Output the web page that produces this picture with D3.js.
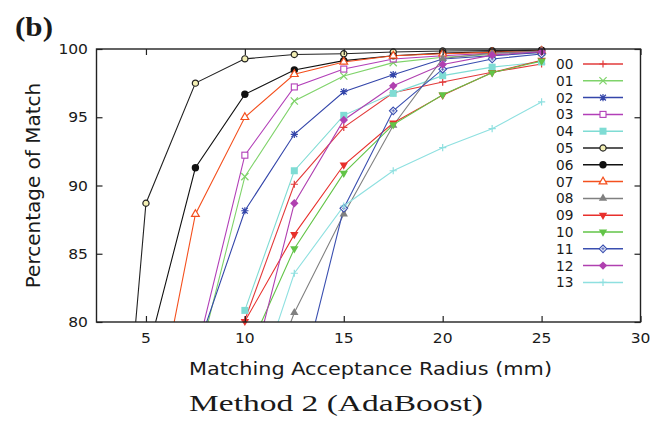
<!DOCTYPE html>
<html>
<head>
<meta charset="utf-8">
<script src="https://cdn.jsdelivr.net/npm/d3@7"></script>
<style>
  body { margin: 0; background: #fff; }
  text { fill: #1a1a1a; }
</style>
</head>
<body>
<svg id="chart" width="662" height="421"></svg>
<script>
// Acceptance radius (mm) at which each sequence was evaluated
const radius = [2.5, 5, 7.5, 10, 12.5, 15, 17.5, 20, 22.5, 25];

// Percentage of match per sequence (null = not evaluated / far below range)
const s00 = [null, null, null, 80.15, 90.09, 94.26, 96.8, 97.58, 98.3, 98.9];
const s01 = [null, null, 76.3, 90.65, 96.19, 98.02, 99.0, 99.4, 99.6, 99.75];
const s02 = [null, null, 77.6, 88.15, 93.75, 96.87, 98.12, 99.27, 99.5, 99.75];
const s03 = [null, null, 77.4, 92.22, 97.22, 98.53, 99.27, 99.5, 99.7, 99.82];
const s04 = [null, null, null, 80.85, 91.08, 95.14, 96.75, 98.05, 98.67, 99.05];
const s05 = [46.7, 88.7, 97.5, 99.28, 99.6, 99.65, 99.78, 99.85, 99.88, 99.92];
const s06 = [null, 77.25, 91.3, 96.68, 98.46, 99.15, 99.5, 99.7, 99.8, 99.9];
const s07 = [null, 69.5, 87.9, 95.0, 98.15, 99.05, 99.5, 99.65, 99.75, 99.85];
const s08 = [null, null, null, 71.1, 80.68, 87.9, 94.4, 99.3, 99.7, 99.85];
const s09 = [null, null, null, 80.05, 86.42, 91.5, 94.58, 96.62, 98.28, 99.18];
const s10 = [null, null, null, 77.3, 85.37, 90.9, 94.46, 96.65, 98.26, 99.12];
const s11 = [null, null, null, null, 73.8, 88.33, 95.47, 98.52, 99.27, 99.63];
const s12 = [null, null, null, 74.4, 88.7, 94.8, 97.3, 98.86, 99.55, 99.8];
const s13 = [null, null, null, 72.7, 83.57, 88.5, 91.08, 92.77, 94.16, 96.12];

const seriesValues = [s00, s01, s02, s03, s04, s05, s06, s07, s08, s09, s10, s11, s12, s13];
const seriesNames = ["00", "01", "02", "03", "04", "05", "06", "07", "08", "09", "10", "11", "12", "13"];
const seriesColors = ["#e23b3b", "#7fd36a", "#3446aa", "#b23fb8", "#7fdcd4", "#222222",
                      "#111111", "#f4501e", "#808080", "#e8302c", "#62c447", "#3a4fb0",
                      "#b040b0", "#8ee0e0"];
const seriesSymbols = ["plus", "cross", "star", "squareOpen", "square", "circleOpen",
                       "circle", "triangleOpen", "triangle", "triangleDown", "triangleDown",
                       "diamondOpen", "diamond", "plus"];

const xTicks = [5, 10, 15, 20, 25, 30];
const yTicks = [80, 85, 90, 95, 100];

const plot = { left: 96.5, right: 640.5, top: 49, bottom: 322 };
const svg = d3.select("#chart");

const x = d3.scaleLinear().domain([2.5, 30]).range([plot.left, plot.right]);
const y = d3.scaleLinear().domain([80, 100]).range([plot.bottom, plot.top]);

svg.append("defs").append("clipPath").attr("id", "plotClip")
  .append("rect")
  .attr("x", plot.left).attr("y", plot.top)
  .attr("width", plot.right - plot.left).attr("height", plot.bottom - plot.top);

// Marker shapes
function drawSymbol(g, type, color, cx, cy) {
  const r = 3.6;
  const t = g.append("g").attr("transform", `translate(${cx},${cy})`);
  const line = "stroke-width";
  switch (type) {
    case "plus":
      t.append("path").attr("d", `M${-r},0H${r}M0,${-r}V${r}`)
        .attr("stroke", color).attr(line, 1.2).attr("fill", "none");
      break;
    case "cross":
      t.append("path").attr("d", `M${-r},${-r}L${r},${r}M${-r},${r}L${r},${-r}`)
        .attr("stroke", color).attr(line, 1.2).attr("fill", "none");
      break;
    case "star":
      t.append("path").attr("d", `M${-r},0H${r}M0,${-r}V${r}M${-r*0.8},${-r*0.8}L${r*0.8},${r*0.8}M${-r*0.8},${r*0.8}L${r*0.8},${-r*0.8}`)
        .attr("stroke", color).attr(line, 1.2).attr("fill", "none");
      break;
    case "squareOpen":
      t.append("rect").attr("x", -3).attr("y", -3).attr("width", 6).attr("height", 6)
        .attr("stroke", color).attr(line, 1.1).attr("fill", "#fff");
      break;
    case "square":
      t.append("rect").attr("x", -3.5).attr("y", -3.5).attr("width", 7).attr("height", 7)
        .attr("fill", color);
      break;
    case "circleOpen":
      t.append("circle").attr("r", 3.1)
        .attr("stroke", color).attr(line, 1.2).attr("fill", "#f3efb4");
      break;
    case "circle":
      t.append("circle").attr("r", 3.7).attr("fill", color);
      break;
    case "triangleOpen":
      t.append("path").attr("d", d3.symbol(d3.symbolTriangle, 26)())
        .attr("stroke", color).attr(line, 1.2).attr("fill", "#fff");
      break;
    case "triangle":
      t.append("path").attr("d", d3.symbol(d3.symbolTriangle, 30)()).attr("fill", color);
      break;
    case "triangleDown":
      t.append("path").attr("d", d3.symbol(d3.symbolTriangle, 30)())
        .attr("transform", "rotate(180)").attr("fill", color);
      break;
    case "diamondOpen":
      t.append("path").attr("d", "M0,-3.8L3.8,0L0,3.8L-3.8,0Z")
        .attr("stroke", color).attr(line, 1.1).attr("fill", "#fff");
      t.append("path").attr("d", "M-1.8,0H1.8M0,-1.8V1.8")
        .attr("stroke", color).attr(line, 0.8);
      break;
    case "diamond":
      t.append("path").attr("d", "M0,-4.2L4.2,0L0,4.2L-4.2,0Z").attr("fill", color);
      break;
  }
}

// Series lines and markers
const lineGen = d3.line()
  .defined(d => d.v !== null)
  .x(d => x(d.r))
  .y(d => y(d.v));

const linesG = svg.append("g").attr("clip-path", "url(#plotClip)");
const marksG = svg.append("g");

seriesValues.forEach((vals, i) => {
  const pts = radius.map((r, j) => ({ r, v: vals[j] }));
  linesG.append("path")
    .datum(pts)
    .attr("d", lineGen)
    .attr("fill", "none")
    .attr("stroke", seriesColors[i])
    .attr("stroke-width", 1.1);
});
seriesValues.forEach((vals, i) => {
  radius.forEach((r, j) => {
    const v = vals[j];
    if (v === null || v < 80 || v > 100) return;
    drawSymbol(marksG, seriesSymbols[i], seriesColors[i], x(r), y(v));
  });
});

// Frame and inward ticks on all sides
const frame = "#222";
svg.append("rect")
  .attr("x", plot.left).attr("y", plot.top)
  .attr("width", plot.right - plot.left).attr("height", plot.bottom - plot.top)
  .attr("fill", "none").attr("stroke", frame).attr("stroke-width", 1.4);

const tickLen = 6;
const xAxisB = d3.axisBottom(x).tickValues(xTicks).tickSizeInner(-tickLen).tickSizeOuter(0).tickFormat("");
const xAxisT = d3.axisTop(x).tickValues(xTicks).tickSizeInner(-tickLen).tickSizeOuter(0).tickFormat("");
const yAxisL = d3.axisLeft(y).tickValues(yTicks).tickSizeInner(-tickLen).tickSizeOuter(0).tickFormat("");
const yAxisR = d3.axisRight(y).tickValues(yTicks).tickSizeInner(-tickLen).tickSizeOuter(0).tickFormat("");
[[xAxisB, `translate(0,${plot.bottom})`], [xAxisT, `translate(0,${plot.top})`],
 [yAxisL, `translate(${plot.left},0)`], [yAxisR, `translate(${plot.right},0)`]]
  .forEach(([ax, tr]) => {
    const g = svg.append("g").attr("transform", tr).call(ax);
    g.select(".domain").remove();
    g.selectAll(".tick line").attr("stroke", frame).attr("stroke-width", 1.2);
  });

// Tick labels
const sans = "DejaVu Sans, sans-serif";
const tickFont = 13.5, tickStretch = 1.15;
xTicks.forEach(t => {
  svg.append("text")
    .attr("transform", `translate(${x(t)},343) scale(${tickStretch},1)`)
    .attr("text-anchor", "middle")
    .style("font-family", sans).style("font-size", tickFont + "px")
    .text(t);
});
yTicks.forEach(t => {
  svg.append("text")
    .attr("transform", `translate(88,${y(t) + 5}) scale(${tickStretch},1)`)
    .attr("text-anchor", "end")
    .style("font-family", sans).style("font-size", tickFont + "px")
    .text(t);
});

// Axis titles
svg.append("text")
  .attr("x", 189).attr("y", 375)
  .attr("textLength", 363).attr("lengthAdjust", "spacingAndGlyphs")
  .style("font-family", sans).style("font-size", "17.5px")
  .text("Matching Acceptance Radius (mm)");

svg.append("text")
  .attr("transform", `translate(40,${(plot.top + plot.bottom) / 2}) rotate(-90)`)
  .attr("text-anchor", "middle")
  .style("font-family", sans).style("font-size", "20px")
  .text("Percentage of Match");

// Caption and panel letter
svg.append("text")
  .attr("x", 189).attr("y", 411)
  .attr("textLength", 294).attr("lengthAdjust", "spacingAndGlyphs")
  .style("font-family", "Liberation Serif, serif").style("font-size", "23px")
  .text("Method 2 (AdaBoost)");

svg.append("text")
  .attr("x", 15).attr("y", 36)
  .attr("textLength", 38).attr("lengthAdjust", "spacingAndGlyphs")
  .style("font-family", "Liberation Serif, serif").style("font-weight", "bold")
  .style("font-size", "27px")
  .text("(b)");

// Legend
const legend = svg.append("g");
seriesNames.forEach((name, i) => {
  const ly = 64 + i * 16.8;
  legend.append("text")
    .attr("x", 573.5).attr("y", ly + 5)
    .attr("text-anchor", "end")
    .style("font-family", sans).style("font-size", "13.7px")
    .text(name);
  legend.append("line")
    .attr("x1", 583).attr("x2", 623).attr("y1", ly).attr("y2", ly)
    .attr("stroke", seriesColors[i]).attr("stroke-width", 1.5);
  drawSymbol(legend, seriesSymbols[i], seriesColors[i], 603, ly);
});
</script>
</body>
</html>
